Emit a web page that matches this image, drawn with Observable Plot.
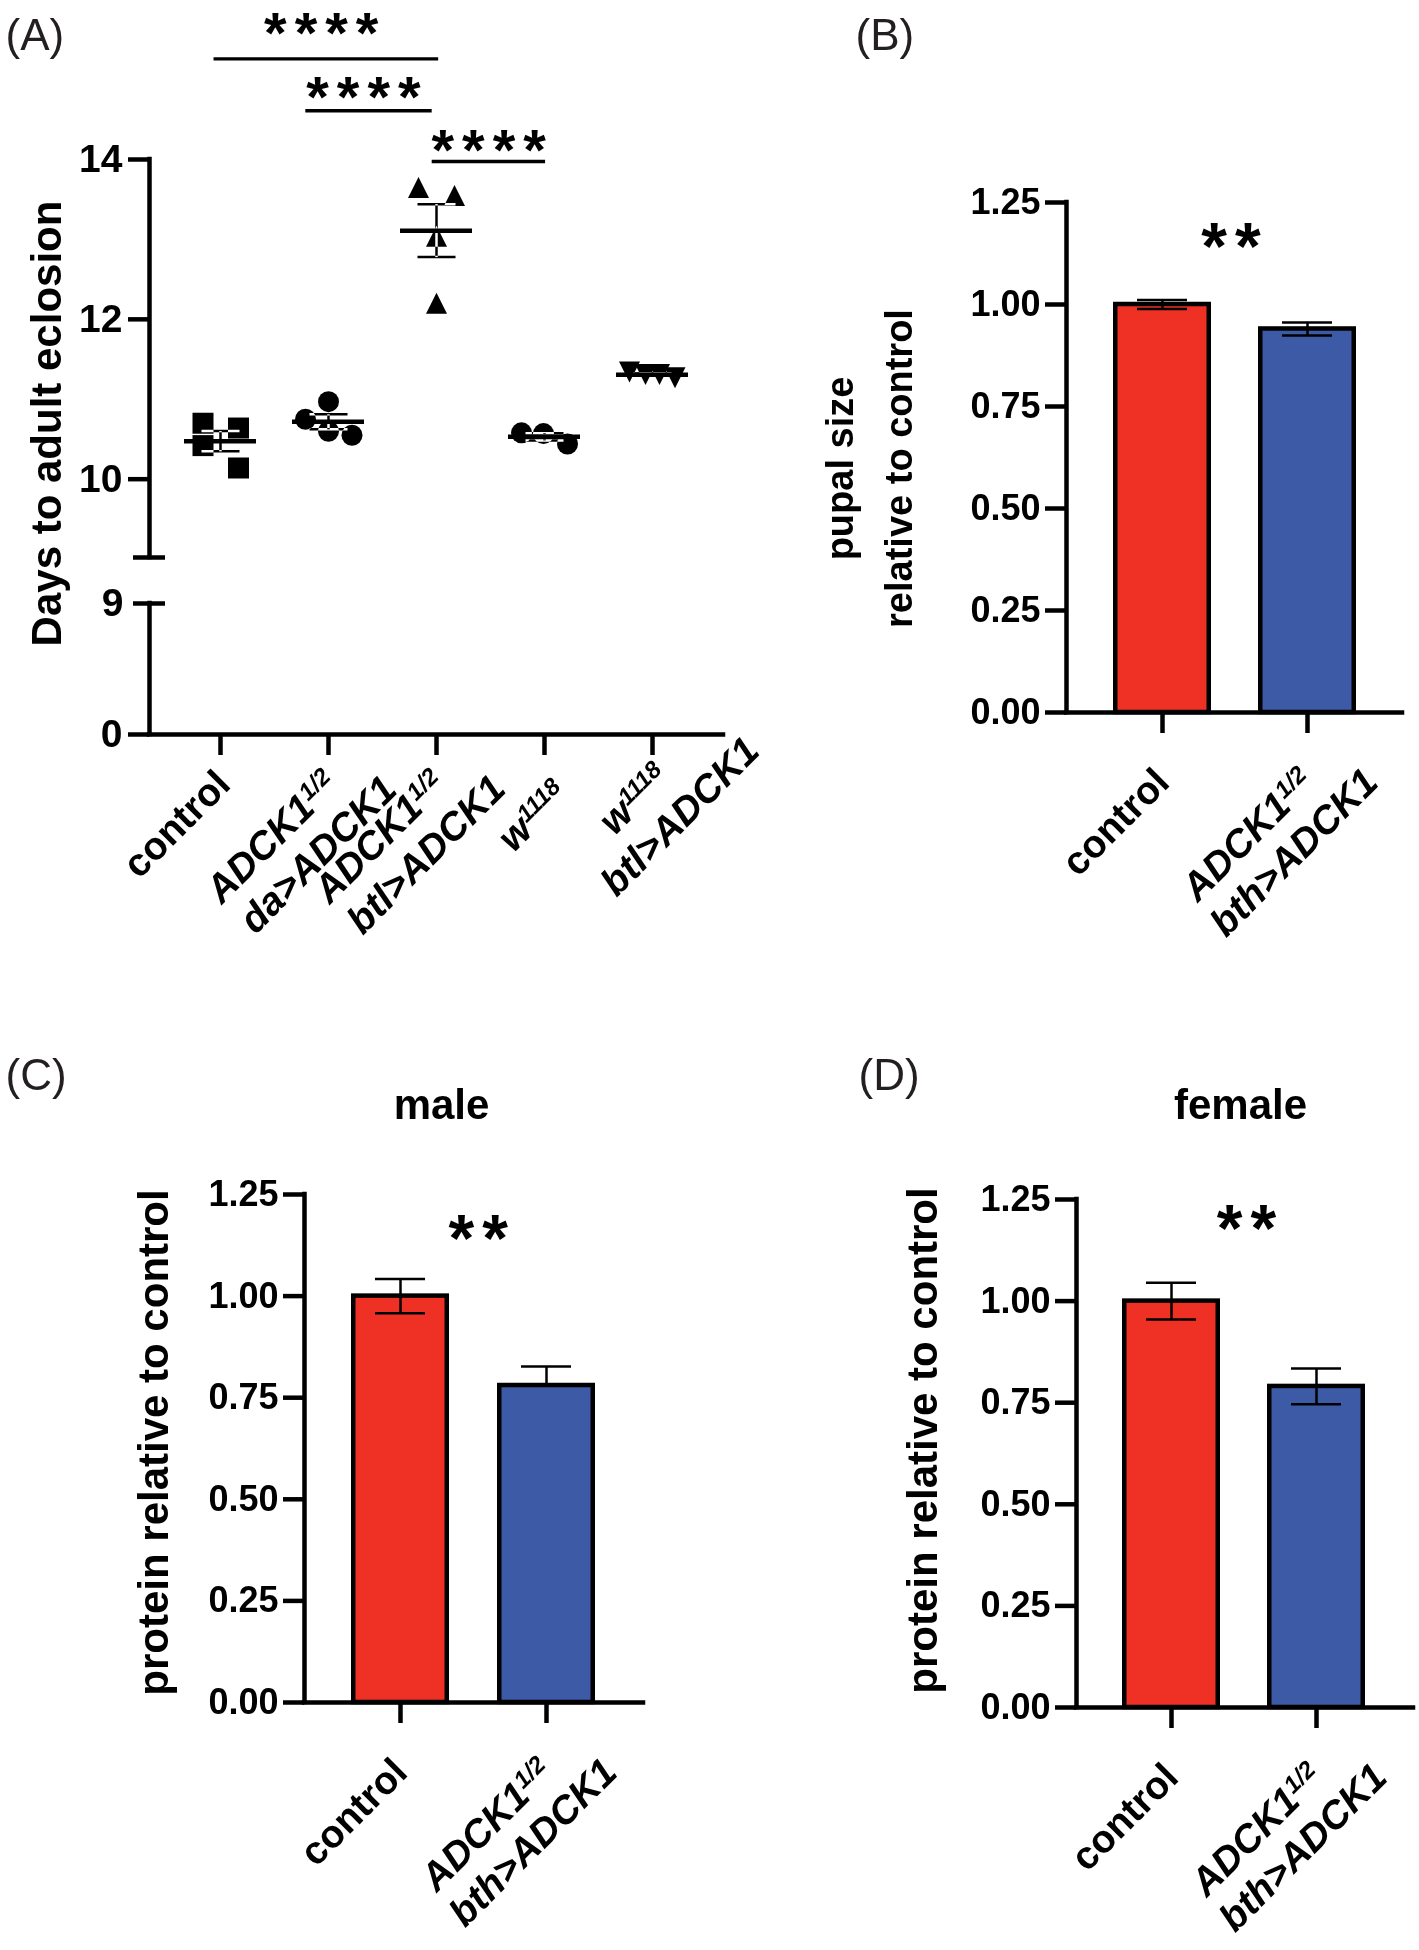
<!DOCTYPE html>
<html>
<head>
<meta charset="utf-8">
<script src="https://cdn.jsdelivr.net/npm/d3@7"></script>
<script src="https://cdn.jsdelivr.net/npm/@observablehq/plot@0.6"></script>
<style>
html, body { margin: 0; padding: 0; background: #fff; }
#fig { position: relative; width: 1419px; height: 1950px; background: #fff; overflow: hidden; }
#fig > div { position: absolute; }
#fig svg { display: block; }
</style>
</head>
<body>
<div id="fig"></div>
<script>
// ---------------- data ----------------
// Panel A: days to adult eclosion (individual replicates)
const groupsA = ["control", "ADCK1^1/2^\nda>ADCK1", "ADCK1^1/2^\nbtl>ADCK1", "w^1118^", "w^1118^\nbtl>ADCK1"];
const daysControl = [10.70, 10.42, 10.64, 10.14];
const daysDaADCK1 = [10.75, 10.97, 10.60, 10.55];
const daysBtlADCK1 = [13.65, 13.55, 13.04, 12.20];
const daysW1118 = [10.58, 10.57, 10.44];
const daysW1118BtlADCK1 = [11.34, 11.31, 11.31, 11.27];
const ticksA = [0, 9, 10, 12, 14];
const comparisonsA = [[0, 2], [1, 2], [2, 3]];
const comparisonLabelsA = ["****", "****", "****"];

// Panels B–D: bar groups
const barGroups = ["control", "ADCK1^1/2^\nbth>ADCK1"];
const pupalSize = [1.00, 0.94];
const pupalSizeSem = [0.011, 0.016];
const maleProtein = [1.00, 0.78];
const maleProteinSem = [0.042, 0.047];
const femaleProtein = [1.00, 0.79];
const femaleProteinSem = [0.045, 0.044];
const barTicks = [0, 0.25, 0.5, 0.75, 1.0, 1.25];
const barColors = ["#EE3124", "#3D5AA7"];

// ---------------- helpers ----------------
const FONT = "'Liberation Sans', Arial, Helvetica, sans-serif";
const NS = "http://www.w3.org/2000/svg";
const LABEL_FS = 39;
const LABEL_LH = 45;
const LINE2_SHIFT = 20;

const squareSym = {draw(ctx, size) { const r = Math.sqrt(size / Math.PI); ctx.moveTo(-r, -r); ctx.lineTo(r, -r); ctx.lineTo(r, r); ctx.lineTo(-r, r); ctx.closePath(); }};
const triUpSym = {draw(ctx, size) { const r = Math.sqrt(size / Math.PI); ctx.moveTo(0, -r); ctx.lineTo(r, r); ctx.lineTo(-r, r); ctx.closePath(); }};
const triDownSym = {draw(ctx, size) { const r = Math.sqrt(size / Math.PI); ctx.moveTo(-r, -r); ctx.lineTo(r, -r); ctx.lineTo(0, r); ctx.closePath(); }};

function mount(svg, left, top) {
  const d = document.createElement("div");
  d.style.left = left + "px";
  d.style.top = top + "px";
  d.appendChild(svg);
  document.getElementById("fig").appendChild(d);
}

// rich category labels: italics for genotypes, ^...^ superscripts, centered lines
function richify(svg, labels, fs, lh, extra) {
  const keys = new Map(labels.map(l => [l.replace(/\n/g, ""), l]));
  svg.querySelectorAll("text").forEach(t => {
    const label = keys.get(t.textContent);
    if (!label) return;
    while (t.firstChild) t.removeChild(t.firstChild);
    t.removeAttribute("y");
    const spans = label.split("\n").map((line, i) => {
      const ts = document.createElementNS(NS, "tspan");
      ts.setAttribute("x", 0);
      ts.setAttribute("y", i * lh);
      if (line !== "control") ts.setAttribute("font-style", "italic");
      line.split("^").forEach((part, k) => {
        if (!part) return;
        if (k % 2) {
          const s = document.createElementNS(NS, "tspan");
          s.setAttribute("font-size", "62%");
          s.setAttribute("dy", -Math.round(fs * 0.3));
          s.textContent = part;
          ts.appendChild(s);
        } else {
          ts.appendChild(document.createTextNode(part));
        }
      });
      t.appendChild(ts);
      return ts;
    });
    const L = spans.map(s => s.getComputedTextLength());
    spans.forEach((s, i) => { if (i > 0) s.setAttribute("x", (L[i] - L[0]) / 2 + extra); });
  });
}

function spaceStars(svg, px) {
  svg.querySelectorAll("text").forEach(t => {
    if (/^\*+$/.test(t.textContent)) t.style.letterSpacing = px + "px";
  });
}

// one rotated category label per group (with a per-label nudge in px)
function categoryLabels(labels, baseDx, baseDy, nudges) {
  return labels.map((lab, i) => Plot.text([lab], {
    x: i, y: 0, text: d => d, rotate: -45, textAnchor: "end",
    fontSize: LABEL_FS, fontWeight: "bold",
    dx: baseDx + (nudges ? nudges[i][0] : 0), dy: baseDy + (nudges ? nudges[i][1] : 0)
  }));
}

// ---------------- Panel A ----------------
(function panelA() {
  const W = 790, H = 1010, mL = 149, mR = 67, mT = 159, mB = 276;
  const c0 = 220, step = 108;                       // category 0 position & spacing (px)
  const xLo = -(c0 - mL) / step, xHi = 4 + (W - mR - (c0 + 4 * step)) / step;
  const at = (px, py) => ({frameAnchor: "top-left", dx: px - mL, dy: py - mT});

  // broken y axis: 0–9 compressed, gap, 9–14 expanded (mapped to one linear Plot scale)
  const BREAK_LO = 9, BREAK_HI = 9.02, LOW_K = 131 / 9, GAP = 46, HIGH_K = 79.92;
  const fy = v => v <= BREAK_LO ? v * LOW_K : BREAK_LO * LOW_K + GAP + (v - BREAK_HI) * HIGH_K;
  const tickLabel = new Map(ticksA.map(t => [fy(t), String(t)]));

  const groups = [daysControl, daysDaADCK1, daysBtlADCK1, daysW1118, daysW1118BtlADCK1];
  const symbols = [squareSym, "circle", triUpSym, "circle", triDownSym];
  // horizontal scatter of the replicate symbols (px)
  const spreadPx = [[-17.5, -17.5, 18, 18], [-23, 0, 0, 23.5], [-18, 18, 0, 0], [-23, -1, 23], [-23, -7, 7, 22.5]];
  const stats = groups.map((v, g) => ({g, mean: d3.mean(v), sem: d3.deviation(v) / Math.sqrt(v.length)}));
  const capA = 19 / step, meanHalf = 36 / step, breakCap = 16 / step;

  const semSegs = stats.flatMap(s => [
    {seg: s.g + "s", x: s.g, y: s.mean - s.sem}, {seg: s.g + "s", x: s.g, y: s.mean + s.sem},
    {seg: s.g + "l", x: s.g - capA, y: s.mean - s.sem}, {seg: s.g + "l", x: s.g + capA, y: s.mean - s.sem},
    {seg: s.g + "h", x: s.g - capA, y: s.mean + s.sem}, {seg: s.g + "h", x: s.g + capA, y: s.mean + s.sem}
  ]);

  // significance bars (positions in data units)
  const sigLayout = [
    {x1: -0.06, x2: 2.02, ly: 15.26, tx: 0.97, ty: 15.74},
    {x1: 0.79, x2: 1.96, ly: 14.61, tx: 1.36, ty: 14.94},
    {x1: 1.96, x2: 3.01, ly: 13.975, tx: 2.52, ty: 14.275}
  ].map((d, i) => ({...d, label: comparisonLabelsA[i], pair: comparisonsA[i]}));

  const starFs = 58;
  const marks = [
    Plot.frame({fill: "white", stroke: "none"}),
    ...groups.map((vals, g) => Plot.dot(vals.map((v, j) => ({x: g + spreadPx[g][j] / step, v})),
      {x: "x", y: d => fy(d.v), symbol: symbols[g], r: 10.5, fill: "black", stroke: "none"})),
    Plot.line(semSegs, {x: "x", y: d => fy(d.y), z: "seg", stroke: "white", strokeWidth: 2.5, strokeLinecap: "butt", mixBlendMode: "difference"}),
    Plot.ruleY(stats, {y: d => fy(d.mean), x1: d => d.g - meanHalf, x2: d => d.g + meanHalf, stroke: "black", strokeWidth: 4.5}),
    // broken y axis
    Plot.ruleX([[0, BREAK_LO], [BREAK_HI, 14]], {x: xLo, y1: d => fy(d[0]), y2: d => fy(d[1]), strokeWidth: 4.5, strokeLinecap: "square"}),
    Plot.ruleY([BREAK_LO, BREAK_HI], {y: d => fy(d), x1: xLo - breakCap, x2: xLo + breakCap, strokeWidth: 4.5}),
    Plot.ruleY([0], {strokeWidth: 4.5, strokeLinecap: "square"}),
    Plot.axisY({ticks: ticksA.filter(t => t !== BREAK_LO).map(fy), tickSize: 21, tickPadding: 6, tickFormat: d => tickLabel.get(d), fontSize: 39, fontWeight: "bold", strokeWidth: 4.5}),
    Plot.axisY({ticks: [fy(BREAK_LO)], tickSize: 0, tickPadding: 26, tickFormat: d => tickLabel.get(d), fontSize: 39, fontWeight: "bold"}),
    Plot.axisX({ticks: d3.range(groupsA.length), tickSize: 21, tickFormat: () => "", strokeWidth: 4.5}),
    ...categoryLabels(groupsA, 12, 52, [[0, 0], [0, 0], [0, 0], [14, 10], [7, -7]]),
    // significance
    Plot.ruleY(sigLayout, {y: d => fy(d.ly), x1: "x1", x2: "x2", strokeWidth: 3.3}),
    Plot.text(sigLayout, {x: "tx", y: d => fy(d.ty), text: "label", fontSize: starFs, fontWeight: "bold", lineAnchor: "bottom", dy: 0.56 * starFs}),
    // titles
    Plot.text(["(A)"], {...at(5, 49), textAnchor: "start", lineAnchor: "bottom", fontSize: 44, fill: "#231f20"}),
    Plot.text(["Days to adult eclosion"], {...at(60, 423), rotate: -90, textAnchor: "middle", lineAnchor: "bottom", fontSize: 42, fontWeight: "bold"})
  ];

  const svg = Plot.plot({
    width: W, height: H, marginLeft: mL, marginRight: mR, marginTop: mT, marginBottom: mB,
    x: {domain: [xLo, xHi], label: null},
    y: {domain: [0, fy(14)], label: null},
    style: {fontFamily: FONT, background: "white", color: "black", overflow: "visible"},
    marks
  });
  mount(svg, 0, 0);
  richify(svg, groupsA, LABEL_FS, LABEL_LH, LINE2_SHIFT);
  spaceStars(svg, 8);
})();

// ---------------- bar panels ----------------
function barPanel(o) {
  const {left, top, W, H, mL, mR, mT, mB, c0, step, values, sems, lowerShown,
         letter, letterPos, title, titlePos, ylabel, ylabelPos, ylabelFs, star} = o;
  const xLo = -(c0 - mL) / step, xHi = 1 + (W - mR - (c0 + step)) / step;
  const hw = 46.75 / step, cap = 25 / step;
  const at = (px, py) => ({frameAnchor: "top-left", dx: px - mL, dy: py - mT});
  const bars = barGroups.map((g, i) => ({i, v: values[i], e: sems[i], low: lowerShown[i]}));
  const caps = bars.flatMap(d => d.low ? [{i: d.i, y: d.v - d.e}, {i: d.i, y: d.v + d.e}] : [{i: d.i, y: d.v + d.e}]);
  const starFs = 66;
  const marks = [
    ...bars.map(b => Plot.rect([b], {x1: d => d.i - hw, x2: d => d.i + hw, y1: 0, y2: "v", fill: barColors[b.i], stroke: "black", strokeWidth: 4.5})),
    Plot.ruleX(bars, {x: "i", y1: d => d.low ? d.v - d.e : d.v, y2: d => d.v + d.e, strokeWidth: 2.5}),
    Plot.ruleY(caps, {y: "y", x1: d => d.i - cap, x2: d => d.i + cap, strokeWidth: 2.5}),
    Plot.ruleX([xLo], {strokeWidth: 4.5, strokeLinecap: "square"}),
    Plot.ruleY([0], {strokeWidth: 4.5, strokeLinecap: "square"}),
    Plot.axisY({ticks: barTicks, tickSize: 21, tickPadding: 5, tickFormat: d3.format(".2f"), fontSize: 36, fontWeight: "bold", strokeWidth: 4.5}),
    Plot.axisX({ticks: [0, 1], tickSize: 21, tickFormat: () => "", strokeWidth: 4.5}),
    ...categoryLabels(barGroups, 9, 72),
    Plot.text([star.label], {x: star.x, y: star.y, fontSize: starFs, fontWeight: "bold", lineAnchor: "bottom", dy: 0.56 * starFs}),
    Plot.text([letter], {...at(...letterPos), textAnchor: "start", lineAnchor: "bottom", fontSize: 44, fill: "#231f20"}),
    Plot.text([ylabel], {...at(...ylabelPos), rotate: -90, textAnchor: "middle", lineAnchor: "bottom", fontSize: ylabelFs, fontWeight: "bold", lineHeight: 1.55})
  ];
  if (title) marks.push(Plot.text([title], {...at(...titlePos), textAnchor: "middle", lineAnchor: "bottom", fontSize: 42, fontWeight: "bold"}));
  const svg = Plot.plot({
    width: W, height: H, marginLeft: mL, marginRight: mR, marginTop: mT, marginBottom: mB,
    x: {domain: [xLo, xHi], label: null},
    y: {domain: [0, 1.25], label: null},
    style: {fontFamily: FONT, background: "white", color: "black", overflow: "visible"},
    marks
  });
  mount(svg, left, top);
  richify(svg, barGroups, LABEL_FS, LABEL_LH, LINE2_SHIFT);
  spaceStars(svg, 8);
}

// Panel B: pupal size
barPanel({
  left: 790, top: 0, W: 629, H: 1010, mL: 276, mR: 17, mT: 202, mB: 298,
  c0: 372, step: 145, values: pupalSize, sems: pupalSizeSem, lowerShown: [true, true],
  letter: "(B)", letterPos: [65, 49],
  ylabel: "pupal size\nrelative to control", ylabelPos: [121, 468], ylabelFs: 38,
  star: {label: "**", x: 0.5, y: 1.177}
});

// Panel C: male protein
barPanel({
  left: 0, top: 1010, W: 850, H: 940, mL: 304, mR: 207, mT: 184, mB: 248,
  c0: 400, step: 146, values: maleProtein, sems: maleProteinSem, lowerShown: [true, false],
  letter: "(C)", letterPos: [5, 79], title: "male", titlePos: [441, 108],
  ylabel: "protein relative to control", ylabelPos: [167, 432], ylabelFs: 42,
  star: {label: "**", x: 0.56, y: 1.177}
});

// Panel D: female protein
barPanel({
  left: 850, top: 1010, W: 569, H: 940, mL: 226, mR: 6, mT: 189, mB: 243,
  c0: 321, step: 145, values: femaleProtein, sems: femaleProteinSem, lowerShown: [true, true],
  letter: "(D)", letterPos: [8, 79], title: "female", titlePos: [390, 108],
  ylabel: "protein relative to control", ylabelPos: [86, 430], ylabelFs: 42,
  star: {label: "**", x: 0.545, y: 1.213}
});
</script>
</body>
</html>
